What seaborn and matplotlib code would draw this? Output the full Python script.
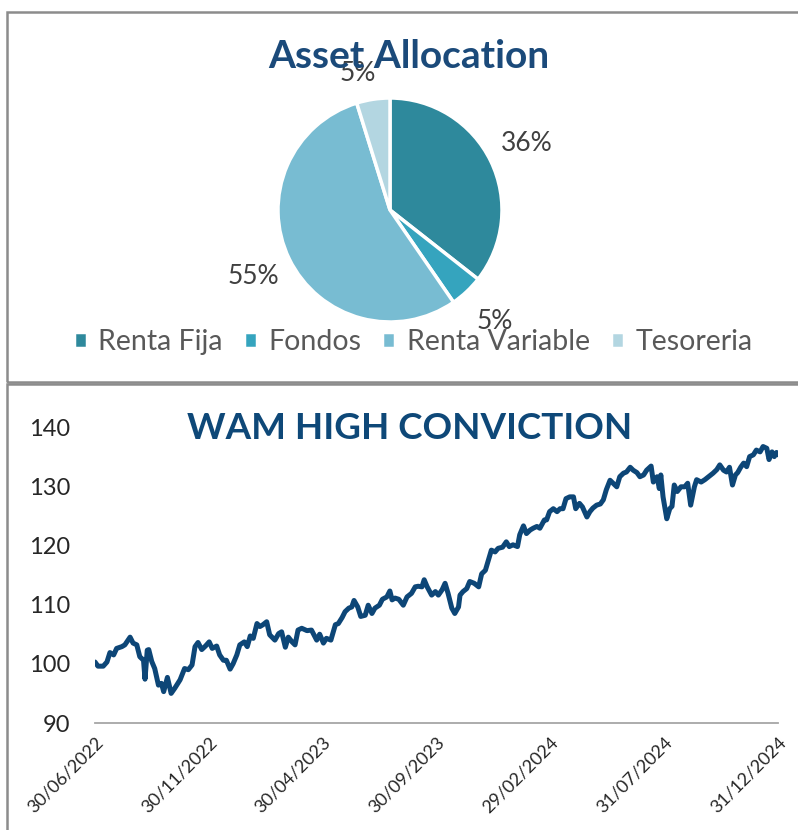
import matplotlib
matplotlib.use("Agg")
import matplotlib.pyplot as plt
import matplotlib.dates as mdates
from matplotlib.patches import Rectangle
import seaborn as sns
import pandas as pd

sns.set_theme(style="white")
plt.rcParams["font.family"] = ["Lato", "DejaVu Sans"]

# Asset allocation
alloc_names = ["Renta Fija", "Fondos", "Renta Variable", "Tesoreria"]
alloc_pct = [35.6, 4.8, 54.8, 4.8]
alloc_colors = ["#2E899C", "#35A4BE", "#78BCD2", "#B3D6E1"]

# Fund value (base 100), days since 30/06/2022
nav_days = [0, 4, 11, 16, 20, 25, 29, 36, 40, 47, 51, 56, 60, 65, 67, 70, 72, 76, 80, 85,
            89, 92, 97, 102, 107, 114, 120, 125, 130, 134, 138, 143, 148, 153, 157, 163, 167, 172, 176, 181,
            185, 190, 194, 200, 204, 208, 212, 217, 221, 225, 230, 234, 241, 246, 250, 255, 259, 264, 268, 272,
            277, 284, 290, 297, 301, 306, 310, 316, 322, 326, 331, 335, 340, 344, 347, 352, 356, 362, 366, 371,
            375, 381, 385, 391, 395, 398, 402, 407, 413, 418, 424, 429, 433, 438, 441, 445, 451, 456, 460, 465,
            469, 473, 478, 482, 487, 489, 493, 498, 502, 508, 514, 518, 523, 527, 531, 536, 540, 546, 551, 555,
            560, 566, 569, 574, 578, 583, 587, 592, 596, 602, 605, 609, 614, 619, 623, 627, 631, 636, 641, 644,
            649, 653, 659, 663, 667, 672, 677, 681, 685, 690, 694, 699, 703, 708, 712, 717, 721, 726, 730, 735,
            739, 745, 748, 753, 756, 758, 761, 766, 770, 773, 776, 780, 785, 790, 794, 798, 803, 806, 812, 817,
            822, 828, 833, 837, 842, 846, 850, 854, 858, 861, 865, 869, 873, 877, 882, 886, 891, 895, 900, 903,
            907, 910, 913, 915]
nav_values = [100.3, 99.6, 99.6, 100.3, 101.9, 101.5, 102.6, 102.9, 103.2, 104.5, 103.5, 103.2, 101.2, 100.6, 97.4, 102.3, 102.4, 100.4, 99.2, 96.4,
              96.7, 95.3, 97.7, 95.0, 95.9, 97.3, 99.2, 99.0, 99.8, 102.9, 103.6, 102.4, 103.0, 103.7, 102.6, 103.0, 101.5, 100.6, 100.6, 99.1,
              100.0, 101.5, 103.2, 103.7, 102.9, 104.7, 104.3, 106.8, 106.3, 106.6, 107.1, 104.9, 104.0, 105.1, 105.4, 102.8, 104.5, 103.7, 103.2, 105.7,
              106.0, 105.6, 105.7, 104.0, 105.0, 103.5, 104.3, 104.0, 106.6, 106.8, 107.8, 108.8, 109.4, 109.6, 110.7, 109.6, 108.0, 108.2, 109.9, 108.5,
              109.4, 109.9, 110.9, 111.3, 112.3, 110.8, 111.1, 110.9, 109.9, 111.3, 111.9, 113.0, 113.1, 113.0, 114.2, 113.0, 111.6, 112.2, 111.6, 112.5,
              113.6, 111.9, 109.4, 108.5, 109.6, 111.6, 112.2, 112.7, 113.9, 113.6, 113.0, 115.2, 115.8, 117.5, 119.2, 118.9, 119.5, 119.7, 120.6, 119.8,
              120.1, 119.8, 121.8, 123.3, 122.0, 122.6, 122.9, 123.2, 122.9, 124.3, 124.3, 125.7, 126.2, 125.7, 126.2, 126.2, 127.9, 128.2, 128.2, 126.2,
              127.1, 126.5, 124.8, 125.7, 126.3, 126.8, 127.0, 127.7, 129.4, 131.0, 130.5, 129.9, 131.6, 132.2, 132.4, 133.2, 132.7, 132.3, 131.6, 131.9,
              132.7, 133.4, 130.7, 131.6, 129.6, 131.9, 128.2, 124.5, 126.2, 126.6, 130.2, 129.1, 129.9, 129.9, 130.5, 126.8, 129.9, 131.1, 130.7, 131.1,
              131.6, 132.2, 132.8, 133.6, 132.7, 132.4, 133.2, 130.2, 131.9, 132.3, 133.2, 133.9, 133.3, 135.0, 135.3, 136.1, 135.8, 136.7, 136.4, 134.5,
              135.8, 135.0, 135.7, 135.3]
tick_dates = ["30/06/2022", "30/11/2022", "30/04/2023", "30/09/2023",
              "29/02/2024", "31/07/2024", "31/12/2024"]

start = pd.Timestamp("2022-06-30")
df = pd.DataFrame({"Fecha": start + pd.to_timedelta(nav_days, unit="D"),
                   "Valor": nav_values})

W, H = 798, 830
fig = plt.figure(figsize=(W / 100, H / 100), dpi=100)

# panel borders
fig.add_artist(Rectangle((7 / W, (H - 382) / H), 1.0, (382 - 12) / H, transform=fig.transFigure,
                         fill=False, ec="#8C8C8C", lw=1.8))
fig.add_artist(Rectangle((7 / W, -0.1), 1.0, (H - 384) / H + 0.1, transform=fig.transFigure,
                         fill=False, ec="#8C8C8C", lw=1.8))

# pie
ax1 = fig.add_axes([278 / W, (H - 322) / H, 224 / W, 224 / H])
wedges, texts, autotexts = ax1.pie(alloc_pct, colors=alloc_colors, startangle=90, counterclock=False,
                                   autopct="%.0f%%", pctdistance=1.36,
                                   wedgeprops=dict(edgecolor="white", linewidth=2.5),
                                   textprops=dict(fontsize=19, color="#404040"))
autotexts[3].set_position((-0.29, 1.22))  # best-fit spot for the small Tesoreria label
ax1.set_xlim(-1, 1)
ax1.set_ylim(-1, 1)
fig.text(409 / W, (H - 57) / H, "Asset Allocation", ha="center", va="center",
         fontsize=28, fontweight="bold", color="#1B4A7A")
fig.legend(wedges, alloc_names, loc="center", bbox_to_anchor=(413 / W, (H - 342) / H), ncol=4,
           frameon=False, fontsize=20.5, handlelength=0.45, handleheight=0.45, handletextpad=0.4,
           columnspacing=0.75, labelcolor="#595959")

# line chart
ax2 = fig.add_axes([95 / W, (H - 723) / H, 683 / W, 296 / H])
sns.lineplot(data=df, x="Fecha", y="Valor", ax=ax2, color="#0D4677", linewidth=3.6)
ax2.set_ylim(90, 140)
ax2.set_xlim(start, start + pd.Timedelta(days=915))
ax2.set_yticks(range(90, 141, 10))
ax2.set_xticks(pd.to_datetime(tick_dates, format="%d/%m/%Y"))
ax2.xaxis.set_major_formatter(mdates.DateFormatter("%d/%m/%Y"))
ax2.set_xlabel("")
ax2.set_ylabel("")
for s in ["top", "right", "left"]:
    ax2.spines[s].set_visible(False)
ax2.spines["bottom"].set_color("#A6A6A6")
ax2.spines["bottom"].set_linewidth(1.3)
ax2.tick_params(axis="y", length=0, pad=18, labelsize=17, labelcolor="#262626")
ax2.tick_params(axis="x", length=0, pad=8, labelsize=13, labelcolor="#262626")
for lab in ax2.get_xticklabels():
    lab.set_rotation(45)
    lab.set_ha("right")
    lab.set_va("top")
    lab.set_rotation_mode("anchor")
ax2.grid(False)
fig.text(410 / W, (H - 428) / H, "WAM HIGH CONVICTION", ha="center", va="center",
         fontsize=26.5, fontweight="bold", color="#0E4878")

fig.savefig("out.png", dpi=100)
